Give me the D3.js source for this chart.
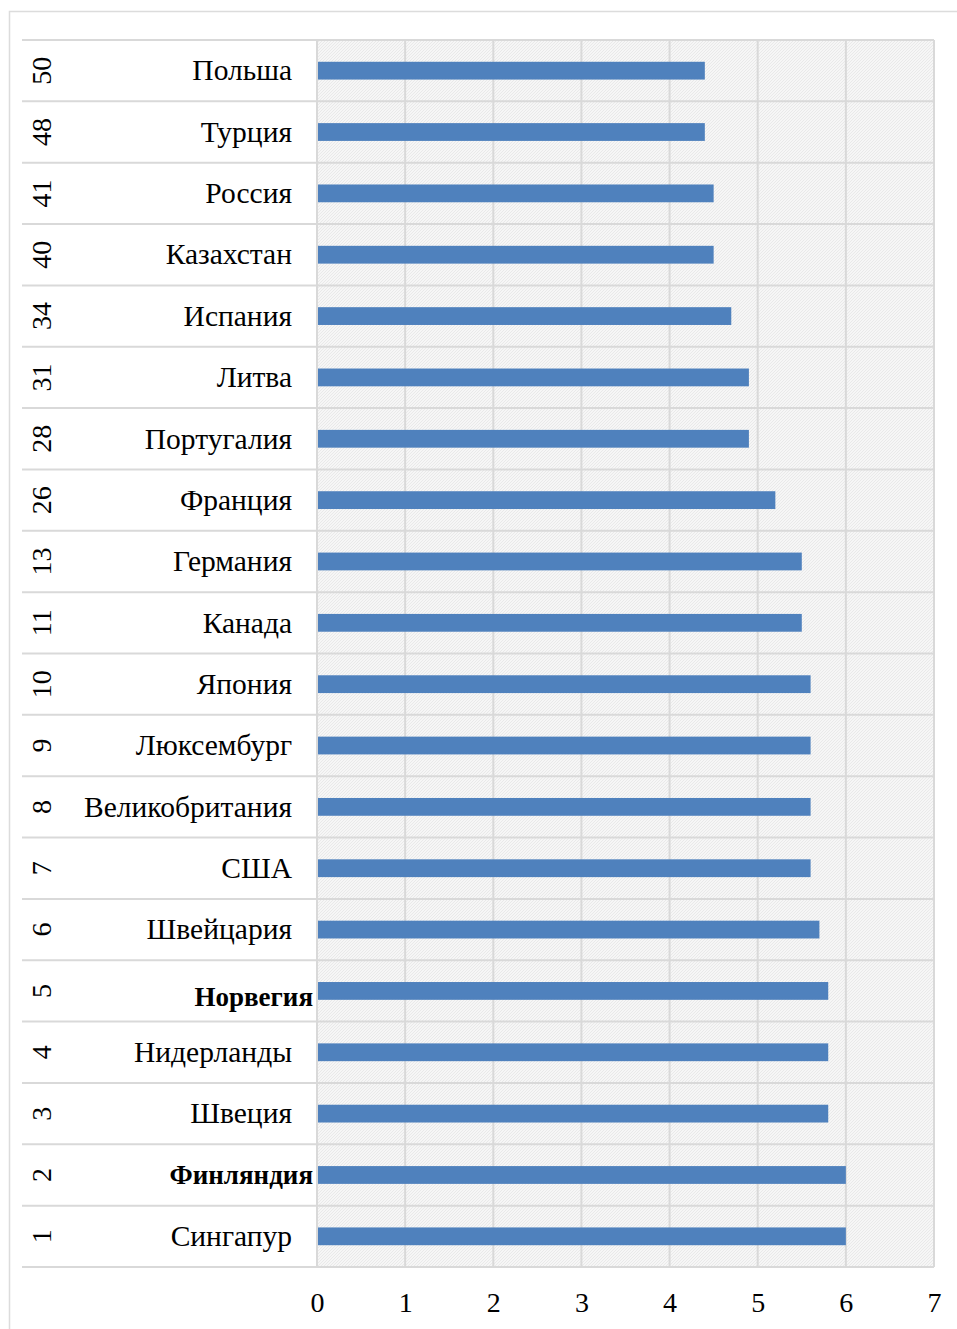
<!DOCTYPE html>
<html>
<head>
<meta charset="utf-8">
<script src="https://cdn.jsdelivr.net/npm/d3@7/dist/d3.min.js"></script>
<style>
  html, body { margin: 0; padding: 0; background: #fff; }
  svg { display: block; }
</style>
</head>
<body>
<script>
// Country ranking (top to bottom) and scores
const ranks = [50, 48, 41, 40, 34, 31, 28, 26, 13, 11, 10, 9, 8, 7, 6, 5, 4, 3, 2, 1];
const countries = ["Польша", "Турция", "Россия", "Казахстан", "Испания", "Литва", "Португалия",
  "Франция", "Германия", "Канада", "Япония", "Люксембург", "Великобритания", "США",
  "Швейцария", "Норвегия", "Нидерланды", "Швеция", "Финляндия", "Сингапур"];
const scores = [4.4, 4.4, 4.5, 4.5, 4.7, 4.9, 4.9, 5.2, 5.5, 5.5, 5.6, 5.6, 5.6, 5.6,
  5.7, 5.8, 5.8, 5.8, 6.0, 6.0];
const highlighted = ["Норвегия", "Финляндия"];
const xTicks = [0, 1, 2, 3, 4, 5, 6, 7];

(function draw() {
  const W = 957, H = 1329;
  const plotLeft = 317, plotRight = 934, plotTop = 40, plotBottom = 1267, tableLeft = 22;
  const font = "'Liberation Serif', 'Times New Roman', serif";

  const rows = ranks.map((r, i) => ({ rank: r, name: countries[i], value: scores[i] }));

  const svg = d3.select("body").append("svg").attr("width", W).attr("height", H);

  // hatched plot background
  const defs = svg.append("defs");
  const pat = defs.append("pattern").attr("id", "hatch").attr("patternUnits", "userSpaceOnUse")
    .attr("width", 3).attr("height", 3);
  pat.append("rect").attr("width", 3).attr("height", 3).attr("fill", "#f6f6f6");
  pat.append("path").attr("d", "M0,3 L3,0").attr("stroke", "#e6e6e6").attr("stroke-width", 0.8);

  // outer frame
  svg.append("path").attr("d", `M9.5,${H} L9.5,11.5 L${W},11.5`)
    .attr("fill", "none").attr("stroke", "#dcdcdc").attr("stroke-width", 1.5);

  const x = d3.scaleLinear().domain([0, 7]).range([plotLeft, plotRight]);
  const y = d3.scaleBand().domain(countries).range([plotTop, plotBottom]).padding(0);

  svg.append("rect").attr("x", plotLeft).attr("y", plotTop).attr("width", plotRight - plotLeft)
    .attr("height", plotBottom - plotTop).attr("fill", "url(#hatch)");

  // vertical gridlines
  svg.append("g").selectAll("line").data(xTicks).join("line")
    .attr("x1", d => x(d)).attr("x2", d => x(d))
    .attr("y1", plotTop).attr("y2", plotBottom)
    .attr("stroke", "#d9d9d9").attr("stroke-width", 2);

  // horizontal row separators across table and plot
  const seps = countries.map(c => y(c)).concat([plotBottom]);
  svg.append("g").selectAll("line").data(seps).join("line")
    .attr("x1", tableLeft).attr("x2", plotRight)
    .attr("y1", d => d).attr("y2", d => d)
    .attr("stroke", "#d9d9d9").attr("stroke-width", 2);

  // bars
  const barH = y.bandwidth() * 0.29;
  svg.append("g").selectAll("rect").data(rows).join("rect")
    .attr("x", x(0) + 1)
    .attr("y", d => y(d.name) + y.bandwidth() / 2 - barH / 2)
    .attr("width", d => x(d.value) - x(0) - 1)
    .attr("height", barH)
    .attr("fill", "#4f81bd");

  // country labels (highlighted ones in bold)
  svg.append("g").selectAll("text").data(rows).join("text")
    .attr("x", d => highlighted.includes(d.name) ? plotLeft - 4 : plotLeft - 25)
    .attr("y", d => y(d.name) + y.bandwidth() / 2 + (d.name === "Норвегия" ? 6 : 0))
    .attr("dy", "0.33em")
    .attr("text-anchor", "end")
    .attr("font-family", font)
    .attr("font-size", d => highlighted.includes(d.name) ? 27 : 29.5)
    .attr("font-weight", d => highlighted.includes(d.name) ? "bold" : "normal")
    .attr("fill", "#000")
    .text(d => d.name);

  // rank numbers, rotated
  svg.append("g").selectAll("text").data(rows).join("text")
    .attr("transform", d => `translate(41,${y(d.name) + y.bandwidth() / 2}) rotate(-90)`)
    .attr("dy", "0.35em")
    .attr("text-anchor", "middle")
    .attr("font-family", font)
    .attr("font-size", 28)
    .attr("fill", "#000")
    .text(d => d.rank);

  // x axis labels
  const axis = d3.axisBottom(x).tickValues(xTicks).tickFormat(d3.format("d"))
    .tickSize(0).tickPadding(0);
  const gx = svg.append("g").attr("transform", `translate(0,${plotBottom})`).call(axis);
  gx.select(".domain").remove();
  gx.selectAll("text")
    .attr("y", 35)
    .attr("dy", "0.35em")
    .attr("font-family", font)
    .attr("font-size", 28)
    .attr("fill", "#000");
})();
</script>
</body>
</html>
